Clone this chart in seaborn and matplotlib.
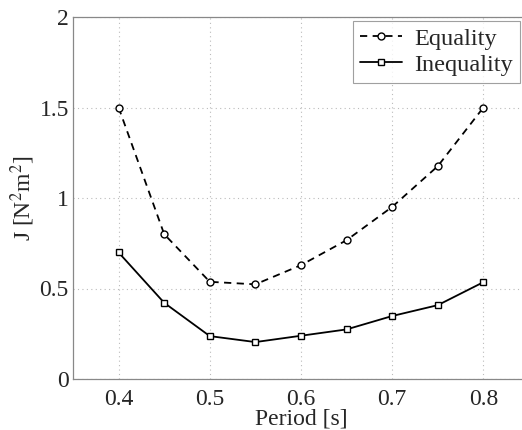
import matplotlib
matplotlib.use("Agg")
import matplotlib.pyplot as plt
import seaborn as sns
import pandas as pd

# data
period = [0.40, 0.45, 0.50, 0.55, 0.60, 0.65, 0.70, 0.75, 0.80]
equality = [1.50, 0.80, 0.537, 0.523, 0.629, 0.767, 0.951, 1.176, 1.50]
inequality = [0.699, 0.421, 0.237, 0.204, 0.239, 0.274, 0.348, 0.408, 0.535]

df = pd.DataFrame({
    "Period": period * 2,
    "J": equality + inequality,
    "Case": ["Equality"] * len(period) + ["Inequality"] * len(period),
})

sns.set_style("white")
plt.rcParams["font.family"] = ["Liberation Serif", "DejaVu Serif"]
plt.rcParams["mathtext.fontset"] = "stix"

fig = plt.figure(figsize=(5.22, 4.30), dpi=100)
# the original is cropped on the right, so the axes run a little past the edge
ax = fig.add_axes([73 / 522, 51 / 430, 456 / 522, 362 / 430])
sns.lineplot(data=df, x="Period", y="J", style="Case", markers=["o", "s"],
             dashes=[(4, 3), ""], color="black", linewidth=1.3,
             markersize=5, markerfacecolor="white", markeredgecolor="black",
             markeredgewidth=1.0, ax=ax)

ax.set_xlim(0.35, 0.85)
ax.set_ylim(0, 2)
ax.set_xticks([0.4, 0.5, 0.6, 0.7, 0.8])
ax.set_yticks([0, 0.5, 1, 1.5, 2])
ax.set_yticklabels(["0", "0.5", "1", "1.5", "2"])
ax.grid(True, linestyle=(0, (1, 3)), color="#bbbbbb", linewidth=0.8)
ax.tick_params(axis="x", length=0, labelsize=17, pad=7)
ax.tick_params(axis="y", length=0, labelsize=17, pad=3)
for s in ax.spines.values():
    s.set_color("#888888")
    s.set_linewidth(0.9)

ax.set_xlabel("Period [s]", fontsize=17, labelpad=-1)
ax.set_ylabel(r"J [N$^2$m$^2$]", fontsize=17, labelpad=2)

leg = ax.legend(title=None, loc="upper right", bbox_to_anchor=(0.98, 0.99),
                fontsize=17.5, frameon=True, fancybox=False,
                edgecolor="#888888", handlelength=1.7, handletextpad=0.5,
                borderaxespad=0, labelspacing=0.15, borderpad=0.3)
leg.get_frame().set_linewidth(0.8)

fig.savefig("out.png", dpi=100)
